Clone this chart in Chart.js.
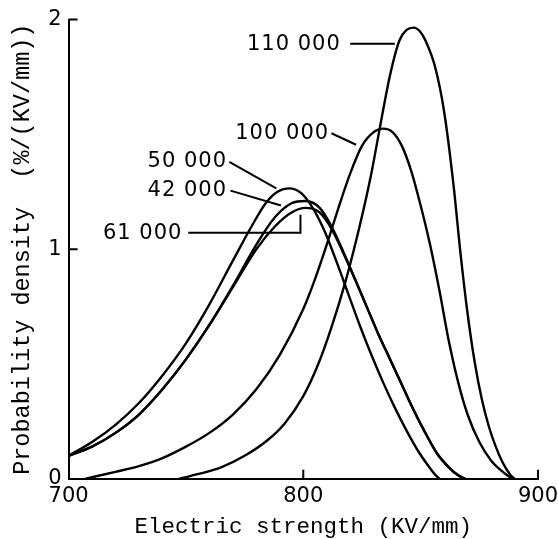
<!DOCTYPE html>
<html>
<head>
<meta charset="utf-8">
<script src="https://cdn.jsdelivr.net/npm/chart.js@4/dist/chart.umd.min.js"></script>
<style>
  html, body { margin: 0; padding: 0; background: #fff; }
  #wrap { width: 558px; height: 539px; }
</style>
</head>
<body>
<div id="wrap"><canvas id="density"></canvas></div>
<script>
// electric strength (KV/mm) and probability density for each sample
let strength50k = [700, 710, 720, 730, 740, 750, 760, 770, 778, 784, 789, 794, 799, 804, 809, 814, 819, 824, 829, 834, 839, 844, 849, 853, 856, 858];
let density50k  = [0.10, 0.16, 0.235, 0.33, 0.45, 0.59, 0.76, 0.95, 1.10, 1.20, 1.25, 1.265, 1.245, 1.18, 1.08, 0.95, 0.81, 0.67, 0.54, 0.42, 0.31, 0.21, 0.12, 0.06, 0.02, 0];

let strength42k = [700, 710, 720, 730, 740, 750, 760, 770, 780, 788, 795, 801, 807, 812, 817, 822, 827, 832, 837, 842, 847, 852, 857, 862, 866, 869];
let density42k  = [0.10, 0.14, 0.20, 0.28, 0.39, 0.52, 0.67, 0.84, 1.02, 1.14, 1.20, 1.21, 1.18, 1.10, 0.99, 0.87, 0.75, 0.63, 0.52, 0.41, 0.30, 0.20, 0.11, 0.05, 0.015, 0];

let strength61k = [700, 710, 720, 730, 740, 750, 760, 770, 780, 788, 795, 801, 807, 812, 817, 822, 827, 832, 837, 842, 847, 852, 857, 862, 866, 869];
let density61k  = [0.10, 0.14, 0.20, 0.28, 0.39, 0.52, 0.67, 0.835, 1.00, 1.10, 1.16, 1.18, 1.16, 1.09, 0.985, 0.87, 0.75, 0.63, 0.52, 0.41, 0.30, 0.20, 0.11, 0.05, 0.015, 0];

let strength100k = [707, 720, 730, 740, 750, 760, 770, 780, 790, 800, 805, 810, 815, 820, 825, 830, 834, 838, 842, 846, 850, 854, 858, 862, 866, 870, 875, 880, 885, 889];
let density100k  = [0, 0.03, 0.055, 0.09, 0.14, 0.20, 0.28, 0.39, 0.54, 0.74, 0.87, 1.02, 1.18, 1.33, 1.45, 1.51, 1.525, 1.51, 1.45, 1.34, 1.19, 1.02, 0.82, 0.60, 0.42, 0.28, 0.16, 0.08, 0.03, 0];

let strength110k = [747, 755, 765, 775, 785, 792, 800, 806, 812, 818, 824, 829, 833, 837, 841, 844, 847, 850, 852, 856, 860, 864, 867, 870, 873, 876, 879, 882, 885, 888, 890];
let density110k  = [0, 0.02, 0.05, 0.10, 0.17, 0.24, 0.36, 0.49, 0.66, 0.86, 1.10, 1.33, 1.55, 1.76, 1.91, 1.955, 1.965, 1.945, 1.91, 1.80, 1.60, 1.28, 0.98, 0.72, 0.51, 0.35, 0.23, 0.14, 0.07, 0.02, 0];

let xTicks = [700, 800, 900];
let yTicks = [0, 1, 2];

// callout text and the leader line that points at its curve
let callouts = [
    { text: '110 000', at: [816, 1.89], line: [[820, 1.895], [839, 1.895]] },
    { text: '100 000', at: [811, 1.505], line: [[812, 1.505], [822.5, 1.455]] },
    { text: '50 000', at: [767.5, 1.38], line: [[768.5, 1.38], [788.5, 1.265]] },
    { text: '42 000', at: [767.5, 1.255], line: [[769, 1.255], [790.5, 1.19]] },
    { text: '61 000', at: [748.5, 1.07], line: [[751, 1.072], [798.8, 1.072], [798.8, 1.15]] }
];

let pairUp = (xs, ys) => xs.map((x, i) => ({ x: x, y: ys[i] }));

let curve = (xs, ys) => ({
    data: pairUp(xs, ys),
    borderColor: '#000',
    borderWidth: 2.4,
    pointRadius: 0,
    fill: false,
    cubicInterpolationMode: 'monotone'
});

let inwardTicks = {
    id: 'inwardTicks',
    afterDraw(chart) {
        let ctx = chart.ctx;
        let xs = chart.scales.x, ys = chart.scales.y;
        ctx.save();
        ctx.strokeStyle = '#000';
        ctx.lineWidth = 2;
        ctx.beginPath();
        xTicks.slice(1).forEach(v => {
            let px = xs.getPixelForValue(v);
            ctx.moveTo(px, ys.bottom);
            ctx.lineTo(px, ys.bottom - 9);
        });
        yTicks.slice(1).forEach(v => {
            let py = ys.getPixelForValue(v);
            ctx.moveTo(xs.left, py);
            ctx.lineTo(xs.left + 9, py);
        });
        ctx.stroke();

        // callouts
        ctx.lineWidth = 2;
        ctx.fillStyle = '#000';
        ctx.font = '21px "DejaVu Sans"';
        ctx.letterSpacing = '1px';
        ctx.textAlign = 'right';
        ctx.textBaseline = 'middle';
        callouts.forEach(c => {
            ctx.fillText(c.text, xs.getPixelForValue(c.at[0]), ys.getPixelForValue(c.at[1]));
            ctx.beginPath();
            c.line.forEach((p, i) => {
                let px = xs.getPixelForValue(p[0]), py = ys.getPixelForValue(p[1]);
                if (i === 0) ctx.moveTo(px, py); else ctx.lineTo(px, py);
            });
            ctx.stroke();
        });
        ctx.restore();
    }
};

new Chart(document.getElementById('density'), {
    type: 'line',
    data: {
        datasets: [
            curve(strength50k, density50k),
            curve(strength42k, density42k),
            curve(strength61k, density61k),
            curve(strength100k, density100k),
            curve(strength110k, density110k)
        ]
    },
    options: {
        responsive: true,
        maintainAspectRatio: false,
        animation: false,
        layout: { padding: { left: 9, right: 0, top: 8, bottom: -2 } },
        plugins: { legend: { display: false }, tooltip: { enabled: false } },
        scales: {
            x: {
                type: 'linear',
                min: 700,
                max: 900,
                afterBuildTicks: axis => { axis.ticks = xTicks.map(v => ({ value: v })); },
                afterFit: axis => { axis.paddingRight = 20; },
                grid: { display: false, drawTicks: false },
                border: { display: true, color: '#000', width: 2 },
                ticks: { color: '#000', padding: 5, font: { family: 'DejaVu Sans', size: 21 } },
                title: {
                    display: true,
                    text: 'Electric strength (KV/mm)',
                    color: '#000',
                    padding: { top: 0, bottom: 0 },
                    font: { family: 'Liberation Mono', size: 22.5 }
                }
            },
            y: {
                min: 0,
                max: 2,
                afterBuildTicks: axis => { axis.ticks = yTicks.map(v => ({ value: v })); },
                grid: { display: false, drawTicks: false },
                border: { display: true, color: '#000', width: 2 },
                ticks: { color: '#000', padding: 7, font: { family: 'DejaVu Sans', size: 21 } },
                title: {
                    display: true,
                    text: 'Probability density  (%/(KV/mm))',
                    color: '#000',
                    padding: { top: 0, bottom: 4 },
                    font: { family: 'Liberation Mono', size: 23.5 }
                }
            }
        }
    },
    plugins: [inwardTicks]
});
</script>
</body>
</html>
